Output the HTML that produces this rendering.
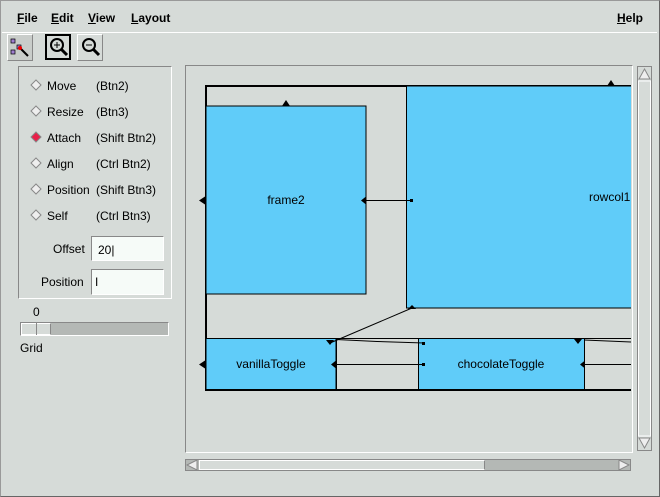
<!DOCTYPE html>
<html><head><style>
body{margin:0;width:660px;height:497px;background:#d6dbd8;font-family:"Liberation Sans",sans-serif;font-size:12px;color:#000;position:relative;overflow:hidden}
.a{position:absolute}
</style></head><body>
<div class="a" style="left:0;top:0;width:658px;height:495px;border:1px solid #999;border-right-color:#666;border-bottom-color:#666"></div>
<div class="a" style="left:2px;top:2px;width:655px;height:30px;border-bottom:1px solid #fff"></div>
<div class="a" style="left:17px;top:11px;font-weight:bold;font-size:12px"><u>F</u>ile</div>
<div class="a" style="left:51px;top:11px;font-weight:bold"><u>E</u>dit</div>
<div class="a" style="left:88px;top:11px;font-weight:bold"><u>V</u>iew</div>
<div class="a" style="left:131px;top:11px;font-weight:bold"><u>L</u>ayout</div>
<div class="a" style="left:617px;top:11px;font-weight:bold"><u>H</u>elp</div>
<div class="a" style="left:7px;top:34px;width:24px;height:25px;background:#c9cdca;border:1px solid #fff;border-right-color:#888;border-bottom-color:#888"></div>
<svg class="a" style="left:8px;top:36px" width="24" height="24"><rect x="3" y="3" width="4" height="4" fill="#a07fd0" stroke="#000" stroke-width=".7"/><rect x="9" y="9" width="4" height="4" fill="#a07fd0" stroke="#000" stroke-width=".7"/><rect x="3" y="14" width="4" height="4" fill="#a07fd0" stroke="#000" stroke-width=".7"/><path d="M12 12L20 20" stroke="#000" stroke-width="2"/><circle cx="12" cy="12" r="2" fill="#e00"/></svg>
<div class="a" style="left:45px;top:34px;width:26px;height:26px;border:2px solid #000;box-sizing:border-box"></div>
<svg class="a" style="left:47px;top:36px" width="24" height="24"><circle cx="10" cy="9" r="6" fill="none" stroke="#000" stroke-width="2"/><path d="M7 9h6M10 6v6" stroke="#000"/><path d="M14 13l6 6" stroke="#000" stroke-width="3"/></svg>
<div class="a" style="left:77px;top:34px;width:24px;height:25px;border:1px solid #fff;border-right-color:#888;border-bottom-color:#888"></div>
<svg class="a" style="left:79px;top:36px" width="24" height="24"><circle cx="10" cy="9" r="6" fill="none" stroke="#000" stroke-width="2"/><path d="M7 9h6" stroke="#000"/><path d="M14 13l6 6" stroke="#000" stroke-width="3"/></svg>
<div class="a" style="left:18px;top:66px;width:152px;height:231px;border:1px solid #888;border-right-color:#fff;border-bottom-color:#fff"></div>
<svg class="a" style="left:29px;top:78px" width="14" height="150">
<g fill="#eee" stroke="#888"><path d="M7 2l5 5-5 5-5-5z"/><path d="M7 28l5 5-5 5-5-5z"/><path d="M7 80l5 5-5 5-5-5z"/><path d="M7 106l5 5-5 5-5-5z"/><path d="M7 132l5 5-5 5-5-5z"/></g>
<path d="M7 54l5 5-5 5-5-5z" fill="#e8204a" stroke="#888"/></svg>
<div class="a" style="left:47px;top:79px">Move</div><div class="a" style="left:96px;top:79px">(Btn2)</div>
<div class="a" style="left:47px;top:105px">Resize</div><div class="a" style="left:96px;top:105px">(Btn3)</div>
<div class="a" style="left:47px;top:131px">Attach</div><div class="a" style="left:96px;top:131px">(Shift Btn2)</div>
<div class="a" style="left:47px;top:157px">Align</div><div class="a" style="left:96px;top:157px">(Ctrl Btn2)</div>
<div class="a" style="left:47px;top:183px">Position</div><div class="a" style="left:96px;top:183px">(Shift Btn3)</div>
<div class="a" style="left:47px;top:209px">Self</div><div class="a" style="left:96px;top:209px">(Ctrl Btn3)</div>
<div class="a" style="left:53px;top:242px">Offset</div>
<div class="a" style="left:91px;top:236px;width:73px;height:25px;background:#f6fbf8;border:1px solid #888;border-right-color:#fff;border-bottom-color:#fff;box-sizing:border-box;padding:6px 0 0 6px">20|</div>
<div class="a" style="left:41px;top:275px">Position</div>
<div class="a" style="left:91px;top:269px;width:73px;height:26px;background:#f6fbf8;border:1px solid #888;border-right-color:#fff;border-bottom-color:#fff;box-sizing:border-box;padding:5px 0 0 3px">I</div>
<div class="a" style="left:33px;top:305px">0</div>
<div class="a" style="left:20px;top:322px;width:149px;height:14px;background:#b4b8b5;border:1px solid #888;border-right-color:#fff;border-bottom-color:#fff;box-sizing:border-box"></div>
<div class="a" style="left:21px;top:323px;width:30px;height:12px;background:#d6dbd8;border:1px solid #fff;border-right-color:#888;box-sizing:border-box"></div>
<div class="a" style="left:36px;top:323px;width:1px;height:12px;background:#888"></div>
<div class="a" style="left:20px;top:341px">Grid</div>
<div class="a" style="left:185px;top:65px;width:446px;height:386px;border:1px solid #888;border-right-color:#fff;border-bottom-color:#fff"></div>
<svg class="a" style="left:186px;top:66px" width="445" height="384" font-family="Liberation Sans" font-size="12">
<g transform="translate(-186,-66)">
<rect x="206" y="86" width="430" height="304" fill="none" stroke="#000" stroke-width="2"/>
<rect x="206" y="106" width="160" height="188" fill="#60ccf9" stroke="#000"/>
<rect x="406.5" y="86" width="230" height="222" fill="#60ccf9" stroke="#000"/>
<rect x="206" y="338.5" width="130" height="51" fill="#60ccf9" stroke="#000"/>
<rect x="418.5" y="338.5" width="166" height="51" fill="#60ccf9" stroke="#000"/>
<rect x="336.5" y="338.5" width="82" height="51" fill="none" stroke="#000"/>
<rect x="584.5" y="338.5" width="60" height="51" fill="none" stroke="#000"/>
<text x="286" y="204" text-anchor="middle">frame2</text>
<text x="589" y="201">rowcol1</text>
<text x="271" y="368" text-anchor="middle">vanillaToggle</text>
<text x="501" y="368" text-anchor="middle">chocolateToggle</text>
<g stroke="#000" fill="none"><path d="M366 200.5H411"/><path d="M330 343L412 308"/><path d="M336 339.5L377 341.5L424 343"/><path d="M336 364.5H424"/><path d="M584 364.5H631"/><path d="M584 340L631 342"/></g>
<g fill="#000"><path d="M286 100l-4 6h8z"/><path d="M611 80l-4 6h8z"/><path d="M412 305l-4 4h8z"/><path d="M199 200.5l6-4v8z"/><path d="M361 200.5l5-4v8z"/><path d="M199 364.5l6-4v8z"/><path d="M331 364.5l5-4v8z"/><path d="M580 364.5l5-4v8z"/><path d="M330 345l-4-5h8z"/><path d="M578 344l-4-5h8z"/>
<rect x="410" y="199" width="3" height="3"/><rect x="422" y="342" width="3" height="3"/><rect x="422" y="363" width="3" height="3"/></g>
</g></svg>
<div class="a" style="left:637px;top:66px;width:15px;height:385px;background:#d6dbd8;border:1px solid #888;box-sizing:border-box"></div>
<svg class="a" style="left:638px;top:67px" width="13" height="383"><path d="M6.5 2L12 12H1z" fill="#eee" stroke="#888"/><path d="M6.5 381L12 371H1z" fill="#eee" stroke="#888"/><rect x="0.5" y="14" width="12" height="355" fill="#d6dbd8" stroke="#fff"/></svg>
<div class="a" style="left:185px;top:459px;width:446px;height:12px;background:#b4b8b5;border:1px solid #888;box-sizing:border-box"></div>
<div class="a" style="left:199px;top:460px;width:286px;height:10px;background:#d6dbd8;border:1px solid #fff;border-right-color:#888;box-sizing:border-box"></div>
<svg class="a" style="left:186px;top:460px" width="444" height="10"><path d="M1 5L11 0V10z" fill="#eee" stroke="#888"/><path d="M443 5L433 0V10z" fill="#eee" stroke="#888"/></svg>
</body></html>
